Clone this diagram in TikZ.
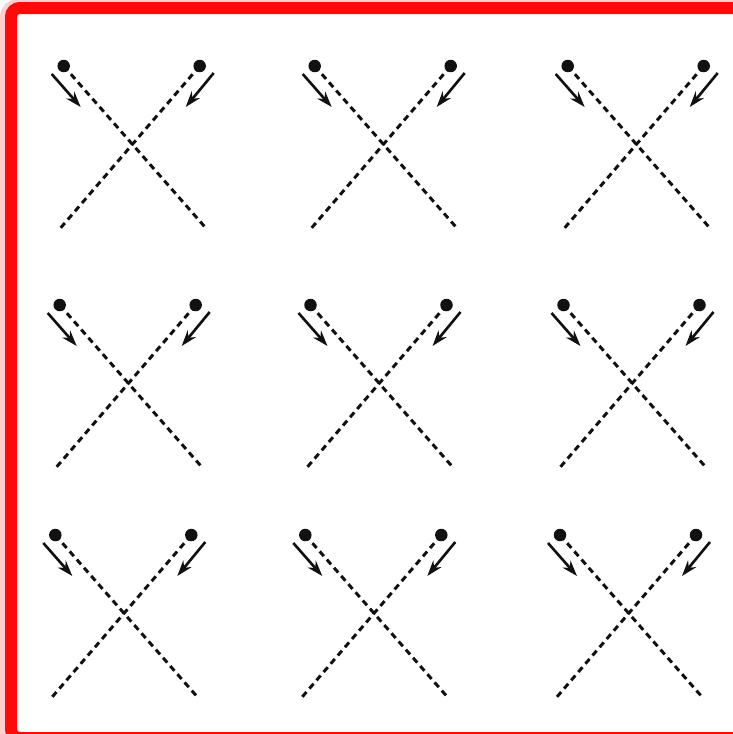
\documentclass[tikz,border=0pt]{standalone}
\usepackage{tikz}
\usetikzlibrary{arrows.meta}
\definecolor{Frame}{HTML}{FF0A0A}
\definecolor{Ink}{HTML}{111111}

\begin{document}
\begin{tikzpicture}[
  x=0.02cm,y=-0.02cm,
  dot/.style={circle,fill=Ink,inner sep=0pt,minimum size=0.25cm},
  track/.style={dash pattern=on 3.6pt off 2.6pt,line width=1.7pt,draw=Ink},
  arrow/.style={-{Stealth[length=9pt,width=6pt]},line width=1.5pt,draw=Ink}
]
\useasboundingbox (0,0) rectangle (733,734);
% red frame
\draw[Frame,line width=0.16cm,opacity=0.2,rounded corners=8pt] (4,3) rectangle (770,760);
\draw[Frame,line width=0.24cm,rounded corners=5pt] (11,8) rectangle (770,738);
% grid of crossings
\foreach \row/\cy/\xa/\xb/\xc in {1/144/131.7/382.7/635.7,2/383/127.7/378.5/631.5,3/613/123.3/373.3/628}
  \foreach \col/\cx in {1/\xa,2/\xb,3/\xc} {
    \coordinate (c\row\col) at (\cx,\cy);
    \coordinate (endL\row\col) at (\cx-72,\cy+85);
    \coordinate (endR\row\col) at (\cx+75,\cy+85);
    \coordinate (arrL\row\col) at (\cx-80,\cy-70);
    \coordinate (tipL\row\col) at (\cx-51,\cy-37);
    \coordinate (arrR\row\col) at (\cx+82,\cy-71);
    \coordinate (tipR\row\col) at (\cx+54,\cy-37);
    \draw[track] (\cx-68,\cy-78) coordinate (startL\row\col) -- (endR\row\col);
    \draw[track] (\cx+68,\cy-78) coordinate (startR\row\col) -- (endL\row\col);
    \node[dot] (dotL\row\col) at (startL\row\col) {};
    \node[dot] (dotR\row\col) at (startR\row\col) {};
    \draw[arrow] (arrL\row\col) -- (tipL\row\col);
    \draw[arrow] (arrR\row\col) -- (tipR\row\col);
  }
\end{tikzpicture}
\end{document}
